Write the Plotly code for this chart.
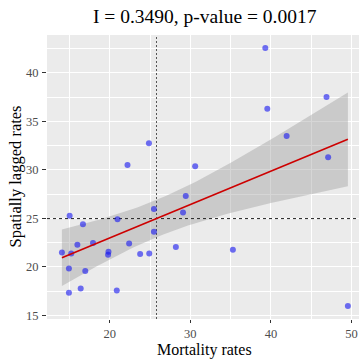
import numpy as np
import plotly.graph_objects as go

# Data
mortality = [24.86, 22.2, 30.6, 39.3, 46.9, 39.55, 41.95, 47.1,
             15.02, 16.67, 20.96, 25.48, 29.43, 29.09, 25.48, 15.98,
             17.92, 22.4, 14.06, 15.22, 19.84, 19.79, 23.77, 24.9,
             28.2, 14.93, 16.96, 16.39, 14.93, 20.87, 35.28, 49.55]
lagged = [32.73, 30.5, 30.37, 42.56, 37.5, 36.3, 33.47, 31.3,
          25.25, 24.39, 24.9, 25.96, 27.3, 25.6, 23.6, 22.27,
          22.44, 22.4, 21.48, 21.38, 21.56, 21.25, 21.31, 21.38,
          22.03, 19.82, 19.57, 17.77, 17.32, 17.56, 21.76, 15.95]
title_text = "I = 0.3490, p-value = 0.0017"
x_label = "Mortality rates"
y_label = "Spatially lagged rates"

x = np.array(mortality)
y = np.array(lagged)
n = len(x)

# Linear fit with 95% confidence band (like geom_smooth(method="lm"))
b1, b0 = np.polyfit(x, y, 1)
resid = y - (b0 + b1 * x)
s = np.sqrt(np.sum(resid ** 2) / (n - 2))
sxx = np.sum((x - x.mean()) ** 2)
t_crit = 2.042  # t quantile 0.975, df = 30
xs = np.linspace(x.min(), x.max(), 80)
ys = b0 + b1 * xs
se = s * np.sqrt(1.0 / n + (xs - x.mean()) ** 2 / sxx)
upper = ys + t_crit * se
lower = ys - t_crit * se

yr = y.max() - y.min()
y_range = [y.min() - 0.05 * yr, y.max() + 0.05 * yr]
x_range = [12.21, 50.93]

fig = go.Figure()
fig.add_trace(go.Scatter(x=np.concatenate([xs, xs[::-1]]),
                         y=np.concatenate([upper, lower[::-1]]),
                         fill="toself", fillcolor="rgba(153,153,153,0.4)",
                         line=dict(width=0), mode="lines", hoverinfo="skip"))
fig.add_trace(go.Scatter(x=[x.mean(), x.mean()], y=y_range, mode="lines",
                         line=dict(color="#555555", width=1, dash="2px,2px")))
fig.add_trace(go.Scatter(x=x_range, y=[y.mean(), y.mean()], mode="lines",
                         line=dict(color="#222222", width=1, dash="3px,3px")))
fig.add_trace(go.Scatter(x=x, y=y, mode="markers",
                         marker=dict(size=6, color="rgba(20,20,240,0.6)",
                                     line=dict(width=0))))
fig.add_trace(go.Scatter(x=xs, y=ys, mode="lines",
                         line=dict(color="#CD0000", width=1.6)))

axis_common = dict(showgrid=True, gridcolor="white", gridwidth=1.1,
                   zeroline=False, showline=False, ticks="outside",
                   tickwidth=1, tickcolor="#333333",
                   tickfont=dict(family="Liberation Serif", size=12.5, color="#4D4D4D"))

fig.update_xaxes(range=x_range, tick0=0, dtick=10, ticklabelstandoff=0, ticklen=3,
                 minor=dict(dtick=5, showgrid=True, gridcolor="white", gridwidth=0.5),
                 **axis_common)
fig.update_yaxes(range=y_range, tick0=0, dtick=5, ticklabelstandoff=1, ticklen=4,
                 minor=dict(dtick=2.5, showgrid=True, gridcolor="white", gridwidth=0.5),
                 **axis_common)

W, H = 359, 361
ml, mr, mt, mb = 47, 0, 35, 42
pw, ph = W - ml - mr, H - mt - mb


def px_x(p):
    return (p - ml) / pw


def px_y(p):
    return (H - mb - p) / ph


fig.update_layout(
    width=W, height=H,
    margin=dict(l=ml, r=mr, t=mt, b=mb),
    paper_bgcolor="white", plot_bgcolor="#EBEBEB",
    showlegend=False,
    annotations=[
        dict(text=title_text, x=px_x(204.5), y=px_y(16.5), xref="paper", yref="paper",
             showarrow=False, xanchor="center", yanchor="middle",
             font=dict(family="Liberation Serif", size=19.5, color="black")),
        dict(text=x_label, x=px_x(204.5), y=px_y(361), xref="paper", yref="paper",
             showarrow=False, xanchor="center", yanchor="bottom",
             font=dict(family="Liberation Serif", size=16, color="black")),
        dict(text=y_label, x=px_x(14.5), y=0.5, xref="paper", yref="paper",
             showarrow=False, xanchor="center", yanchor="middle", textangle=-90,
             font=dict(family="Liberation Serif", size=16.5, color="black")),
    ],
)

fig.write_html("out.html")
